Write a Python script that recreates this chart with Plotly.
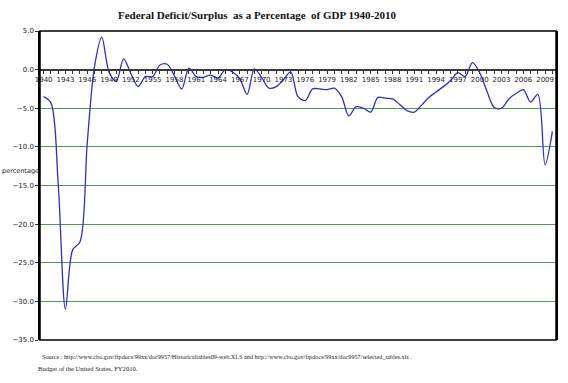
import plotly.graph_objects as go

years = list(range(1940, 2011))
deficit_pct = [
    -3.5, -4.3, -14.7, -31.0, -23.3, -22.3, -9.5, 0.4, 4.2, -0.3,   # 1940-1949
    -1.5, 1.4, -0.5, -2.2, -0.9, -0.9, 0.6, 0.7, -0.8, -2.5,        # 1950-1959
    0.2, -0.9, -1.0, -0.7, -1.1, 0.0, -0.3, -1.2, -3.2, 0.1,        # 1960-1969
    -1.0, -2.4, -2.2, -1.3, -0.3, -3.5, -4.0, -2.5, -2.5, -2.6,     # 1970-1979
    -2.4, -3.5, -6.0, -4.8, -5.0, -5.5, -3.6, -3.7, -3.8, -4.5,     # 1980-1989
    -5.3, -5.5, -4.6, -3.6, -2.9, -2.2, -1.4, -0.4, -0.9, 0.9,      # 1990-1999
    -0.4, -2.8, -4.9, -5.0, -3.8, -3.1, -2.6, -4.2, -3.2, -12.3,    # 2000-2009
    -8.0,                                                            # 2010
]

title_text = "Federal Deficit/Surplus  as a Percentage  of GDP 1940-2010"
y_label = "percentage"
source_line1 = ("Source : http://www.cbo.gov/ftpdocs/99xx/doc9957/Historicaltables09-web.XLS and "
                "http://www.cbo.gov/ftpdocs/99xx/doc9957/selected_tables.xls .")
source_line2 = "Budget of the United States, FY2010."

fig = go.Figure()
fig.add_trace(go.Scatter(
    x=years, y=deficit_pct, mode="lines",
    line=dict(color="#2f2fc4", width=1.3, shape="spline", smoothing=0.9),
    showlegend=False, hoverinfo="x+y",
))

tick_font = dict(family="DejaVu Sans, Verdana, sans-serif", size=7, color="#222")
serif = "Liberation Serif, Times New Roman, serif"

fig.update_layout(
    width=568, height=383,
    margin=dict(l=40, r=12, t=31, b=43),
    paper_bgcolor="white", plot_bgcolor="white",
    title=dict(text="<b>" + title_text + "</b>", x=257/568, xanchor="center",
               y=1 - 15/383, yanchor="middle", xref="container", yref="container",
               font=dict(family=serif, size=11, color="#111")),
    xaxis=dict(
        range=[1939.5, 2010.5], tickmode="linear", tick0=1940, dtick=3,
        anchor="free", position=0.875, automargin=False,
        showline=True, linecolor="#3a3a3a", linewidth=2,
        ticks="outside", ticklen=3, tickcolor="#333", tickwidth=1,
        minor=dict(tickmode="linear", tick0=1940, dtick=1, ticks="outside",
                   ticklen=3, tickcolor="#333", tickwidth=1),
        showgrid=False, zeroline=False,
        tickfont=tick_font,
    ),
    yaxis=dict(
        range=[-35, 5], tickmode="linear", tick0=-35, dtick=5, tickformat=".1f",
        automargin=False,
        showline=True, linecolor="black", linewidth=1.5, mirror=True,
        ticks="outside", ticklen=3, tickcolor="#333",
        showgrid=True, gridcolor="#4a9e4a", gridwidth=1.2, zeroline=False,
        tickfont=tick_font,
    ),
    shapes=[dict(type="rect", xref="paper", yref="paper", x0=0, x1=1, y0=0, y1=1,
                 line=dict(color="black", width=1.5), layer="above")],
    annotations=[
        dict(text=y_label, xref="paper", yref="paper", x=-0.037, y=0.547,
             xanchor="center", yanchor="middle", showarrow=False,
             font=dict(family="DejaVu Sans, Verdana, sans-serif", size=6.5, color="#222")),
        dict(text=source_line1, xref="paper", yref="paper", x=0.0, y=-0.055,
             xanchor="left", yanchor="middle", showarrow=False,
             font=dict(family=serif, size=6.2, color="#222")),
        dict(text=source_line2, xref="paper", yref="paper", x=-0.008, y=-0.092,
             xanchor="left", yanchor="middle", showarrow=False,
             font=dict(family=serif, size=6.6, color="#222")),
    ],
)

fig.write_html("out.html", config={"displayModeBar": False},
               post_script="document.body.style.margin='0';")
